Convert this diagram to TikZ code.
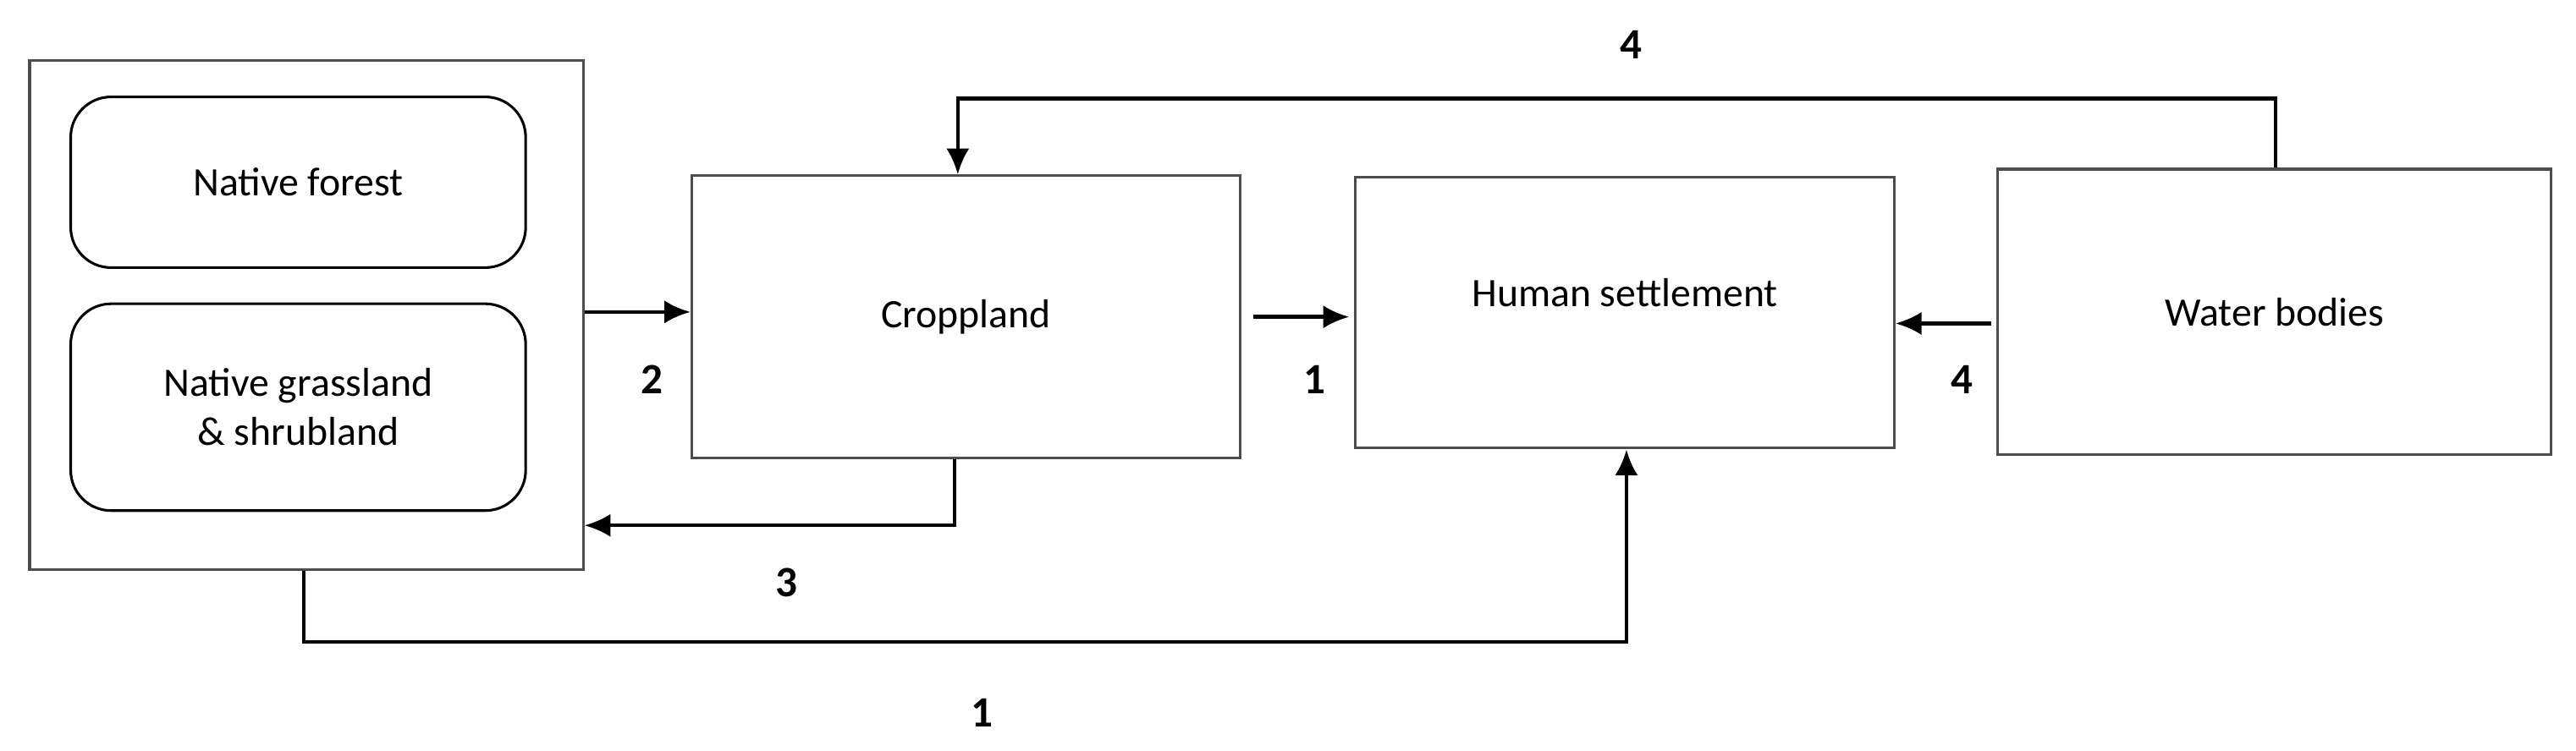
\documentclass[tikz,border=0pt]{standalone}
\usepackage{fontspec}
\setmainfont{Carlito}
\usetikzlibrary{arrows.meta}
\begin{document}
\begin{tikzpicture}[x=0.02cm,y=-0.02cm,
  box/.style={draw=black!70,line width=0.9pt,font=\fontsize{14}{17}\selectfont,align=center,inner sep=0pt},
  rbox/.style={box,draw=black,rounded corners=14pt},
  arr/.style={line width=1.3pt,-{Latex[length=9pt,width=8pt]}},
  lab/.style={font=\bfseries\fontsize{15}{18}\selectfont}]
\useasboundingbox (0,0) rectangle (1568,457);
\node[box,minimum width=6.74cm,minimum height=6.2cm] (outer) at (186.5,192) {};
\node[rbox,minimum width=5.54cm,minimum height=2.08cm] (nf) at (181.5,111) {Native forest};
\node[rbox,minimum width=5.54cm,minimum height=2.52cm] (ng) at (181.5,248) {Native grassland\\\& shrubland};
\node[box,minimum width=6.68cm,minimum height=3.44cm] (crop) at (588,193) {Croppland};
\node[box,minimum width=6.56cm,minimum height=3.3cm,text depth=14pt] (hs) at (989,190.5) {Human settlement};
\node[box,minimum width=6.74cm,minimum height=3.48cm] (wb) at (1384.5,190) {Water bodies};
\draw[arr] (outer.east |- 0,190) -- (crop.west |- 0,190);
\draw[arr] ([xshift=0.14cm]crop.east |- 0,193) -- ([xshift=-0.06cm]hs.west |- 0,193);
\draw[arr] ([xshift=-0.06cm]wb.west |- 0,197) -- (hs.east |- 0,197);
\draw[arr] (crop.south -| 581,0) -- (581,320) -- (outer.east |- 0,320);
\draw[arr] (outer.south -| 185,0) -- (185,391) -- (990,391) -- (hs.south -| 990,0);
\draw[arr] (wb.north -| 1385,0) -- (1385,60) -- (583,60) -- (crop.north -| 583,0);
\node[lab] (l2) at (397,231) {2};
\node[lab] (l1a) at (800,231) {1};
\node[lab] (l4a) at (1194,231) {4};
\node[lab] (l3) at (479,355) {3};
\node[lab] (l1b) at (598,434) {1};
\node[lab] (l4b) at (993,27) {4};
\end{tikzpicture}
\end{document}
